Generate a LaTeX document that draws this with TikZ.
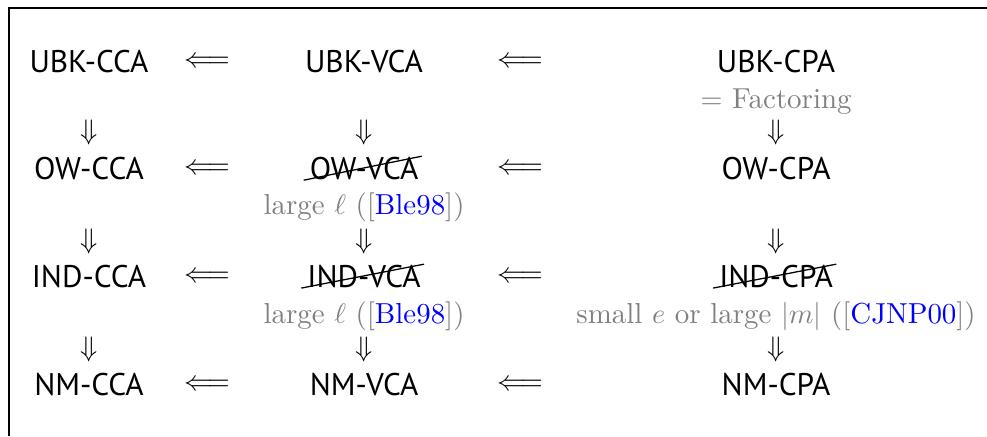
\documentclass[tikz,border=0pt]{standalone}
\usepackage{amsmath,amssymb}
\usepackage{fontspec}
\usepackage[svgnames]{xcolor}
\usepackage{tikz}
\usetikzlibrary{backgrounds}
\newfontfamily\schemefont{PT Sans}
\definecolor{citeblue}{rgb}{0,0,1}
\tikzstyle{scheme}=[inner sep=0pt, anchor=base, font=\schemefont\fontsize{11.1}{13}\selectfont]
\tikzstyle{note}=[inner sep=0pt, anchor=base, text=gray, font=\fontsize{10.25}{12}\selectfont]
\tikzstyle{impl}=[inner sep=0pt, anchor=center]
\tikzstyle{strike}=[-, line width=0.45pt, shorten <=-2pt]
\tikzstyle{frame}=[-, line width=0.45pt]
\pgfdeclarelayer{edgelayer}
\pgfdeclarelayer{nodelayer}
\pgfsetlayers{edgelayer,nodelayer,main}
\newcommand{\citeref}[1]{([\textcolor{citeblue}{#1}])}

\begin{document}
\begin{tikzpicture}
	\useasboundingbox (0, 0) rectangle (12.298, 5.433);
	\begin{pgfonlayer}{nodelayer}
		\node [style=scheme] (UBKCCA) at (1.109, 4.535) {UBK-CCA};
		\node [style=scheme] (UBKVCA) at (4.536, 4.535) {UBK-VCA};
		\node [style=scheme] (UBKCPA) at (9.670, 4.535) {UBK-CPA};
		\node [style=note] (fact) at (9.670, 4.087) {$=$ Factoring};

		\node [style=scheme] (OWCCA) at (1.109, 3.202) {OW-CCA};
		\node [style=scheme] (OWVCA) at (4.536, 3.202) {OW-VCA};
		\node [style=scheme] (OWCPA) at (9.670, 3.202) {OW-CPA};
		\node [style=note] (bleOW) at (4.536, 2.766) {large $\ell$ \citeref{Ble98}};

		\node [style=scheme] (INDCCA) at (1.109, 1.857) {IND-CCA};
		\node [style=scheme] (INDVCA) at (4.536, 1.857) {IND-VCA};
		\node [style=scheme] (INDCPA) at (9.670, 1.857) {IND-CPA};
		\node [style=note] (bleIND) at (4.536, 1.408) {large $\ell$ \citeref{Ble98}};
		\node [style=note] (cjnp) at (9.670, 1.408) {small $e$ or large $|m|$ \citeref{CJNP00}};

		\node [style=scheme] (NMCCA) at (1.109, 0.511) {NM-CCA};
		\node [style=scheme] (NMVCA) at (4.536, 0.511) {NM-VCA};
		\node [style=scheme] (NMCPA) at (9.670, 0.511) {NM-CPA};

		% implications along the rows
		\foreach \y/\r in {4.660/1, 3.327/2, 1.982/3, 0.636/4} {
			\node [style=impl] (l\r a) at (2.580, \y) {$\Longleftarrow$};
			\node [style=impl] (l\r b) at (6.480, \y) {$\Longleftarrow$};
		}
		% implications down the columns
		\foreach \y/\r in {3.788/1, 2.430/2, 1.084/3} {
			\node [style=impl] (d\r a) at (1.109, \y) {$\Downarrow$};
			\node [style=impl] (d\r b) at (4.536, \y) {$\Downarrow$};
			\node [style=impl] (d\r c) at (9.670, \y) {$\Downarrow$};
		}
	\end{pgfonlayer}
	\begin{pgfonlayer}{edgelayer}
		\draw [style=frame] (0.112, 0) -- (0.112, 5.333) -- (12.298, 5.333);
		\draw [style=strike] (OWVCA.base west) to ([xshift=1pt]OWVCA.north east);
		\draw [style=strike] (INDVCA.base west) to ([xshift=1pt]INDVCA.north east);
		\draw [style=strike] (INDCPA.base west) to ([xshift=1pt]INDCPA.north east);
	\end{pgfonlayer}
\end{tikzpicture}
\end{document}
